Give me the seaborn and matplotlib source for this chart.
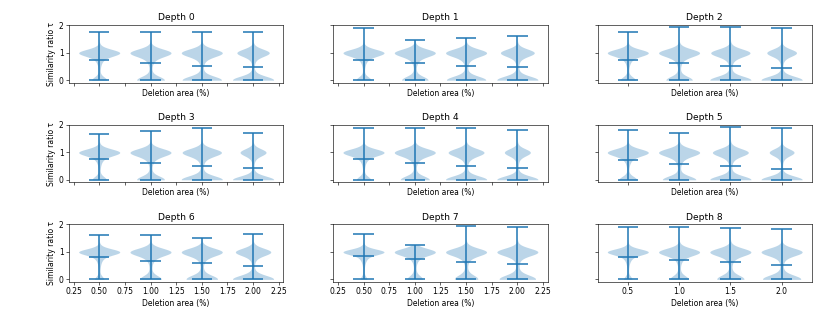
import numpy as np
import pandas as pd
import matplotlib
matplotlib.use("Agg")
import matplotlib.pyplot as plt
import seaborn as sns

# ---------------- data ----------------
area_pct = [0.5, 1.0, 1.5, 2.0]
depth_titles = ["Depth 0", "Depth 1", "Depth 2", "Depth 3", "Depth 4",
                "Depth 5", "Depth 6", "Depth 7", "Depth 8"]

# tau levels of the binned samples (first level = exact zero)
tau_levels = [0.0, 0.1, 0.2, 0.3, 0.4, 0.5, 0.6, 0.7, 0.8, 0.9, 1.0, 1.1, 1.2]

# sample counts for tau levels 0.1 .. 1.2 (shape of each deletion-area violin)
counts_a05 = [6, 5, 5, 6, 8, 12, 20, 35, 50, 300, 30, 12]
counts_a10 = [15, 10, 7, 6, 7, 10, 18, 30, 45, 270, 28, 11]
counts_a15 = [30, 15, 8, 6, 6, 9, 15, 25, 40, 255, 25, 10]
counts_a20 = [40, 20, 8, 6, 6, 8, 12, 20, 25, 265, 15, 8]

# number of samples with tau == 0, per depth (rows) and area (columns)
zero_counts = [
    [129, 213, 273, 347],
    [129, 202, 273, 330],
    [129, 202, 301, 382],
    [121, 213, 301, 442],
    [121, 224, 332, 442],
    [155, 260, 332, 464],
    [75, 162, 212, 314],
    [54, 110, 150, 231],
    [68, 135, 179, 244],
]

# largest tau per depth and area
tau_max = [
    [1.76, 1.74, 1.76, 1.74],
    [1.88, 1.44, 1.53, 1.61],
    [1.75, 1.92, 1.92, 1.88],
    [1.67, 1.78, 1.87, 1.68],
    [1.87, 1.89, 1.87, 1.79],
    [1.82, 1.70, 1.92, 1.89],
    [1.60, 1.60, 1.51, 1.66],
    [1.64, 1.25, 1.92, 1.89],
    [1.89, 1.89, 1.87, 1.84],
]

xticks_fine = [0.25, 0.50, 0.75, 1.00, 1.25, 1.50, 1.75, 2.00, 2.25]
xticks_coarse = [0.5, 1.0, 1.5, 2.0]
yticks = [0, 1, 2]

# ---------------- style ----------------
sns.set_style("ticks", rc={
    "axes.edgecolor": "black", "text.color": "black",
    "axes.labelcolor": "black", "xtick.color": "black", "ytick.color": "black",
    "xtick.major.size": 3.5, "ytick.major.size": 3.5,
    "xtick.direction": "out", "ytick.direction": "out",
})
plt.rcParams["font.family"] = ["DejaVu Sans"]
plt.rcParams["font.size"] = 10
plt.rcParams["axes.titlesize"] = 12
plt.rcParams["axes.labelsize"] = 10
plt.rcParams["xtick.labelsize"] = 10
plt.rcParams["ytick.labelsize"] = 10
plt.rcParams["axes.linewidth"] = 0.8

c0 = sns.color_palette("tab10")[0]
shape_counts = [counts_a05, counts_a10, counts_a15, counts_a20]

DPI = 55
fig, axes = plt.subplots(3, 3, figsize=(831 / DPI, 321 / DPI), dpi=DPI, sharey=True)
fig.subplots_adjust(left=0.083, right=0.977, top=0.922, bottom=0.1215,
                    wspace=0.233, hspace=0.724)

vwidth = 0.4  # violin width in data units (0.8 of position spacing)
for d, ax in enumerate(axes.flat):
    frames = []
    for j, a in enumerate(area_pct):
        counts = [zero_counts[d][j]] + shape_counts[j]
        vals = np.repeat(tau_levels, counts)
        vals = np.append(vals, tau_max[d][j])
        frames.append(pd.DataFrame({"area": a, "tau": vals}))
    df = pd.concat(frames, ignore_index=True)

    sns.violinplot(data=df, x="area", y="tau", native_scale=True, cut=0,
                   inner=None, density_norm="width", width=0.8, color=c0,
                   saturation=1, alpha=0.3, linewidth=0, ax=ax)

    st = df.groupby("area")["tau"].agg(["min", "max", "mean"])
    pos = st.index.values.astype(float)
    ax.vlines(pos, st["min"], st["max"], color=c0, lw=2.0)
    for col in ["min", "max", "mean"]:
        ax.hlines(st[col], pos - vwidth / 4, pos + vwidth / 4, color=c0, lw=2.0)

    ax.set_title(depth_titles[d])
    ax.set_xlabel("Deletion area (%)")
    ax.set_ylabel("Similarity ratio τ")
    col = d % 3
    row = d // 3
    ax.set_xticks(xticks_coarse if col == 2 else xticks_fine)
    ax.set_xlim(0.205, 2.295)
    ax.set_yticks(yticks)
    ax.set_ylim(-0.095, 2.0)
    ax.tick_params(labelbottom=(row == 2), labelleft=(col == 0))
    for s in ax.spines.values():
        s.set_visible(True)

fig.savefig("out.png", dpi=DPI)
